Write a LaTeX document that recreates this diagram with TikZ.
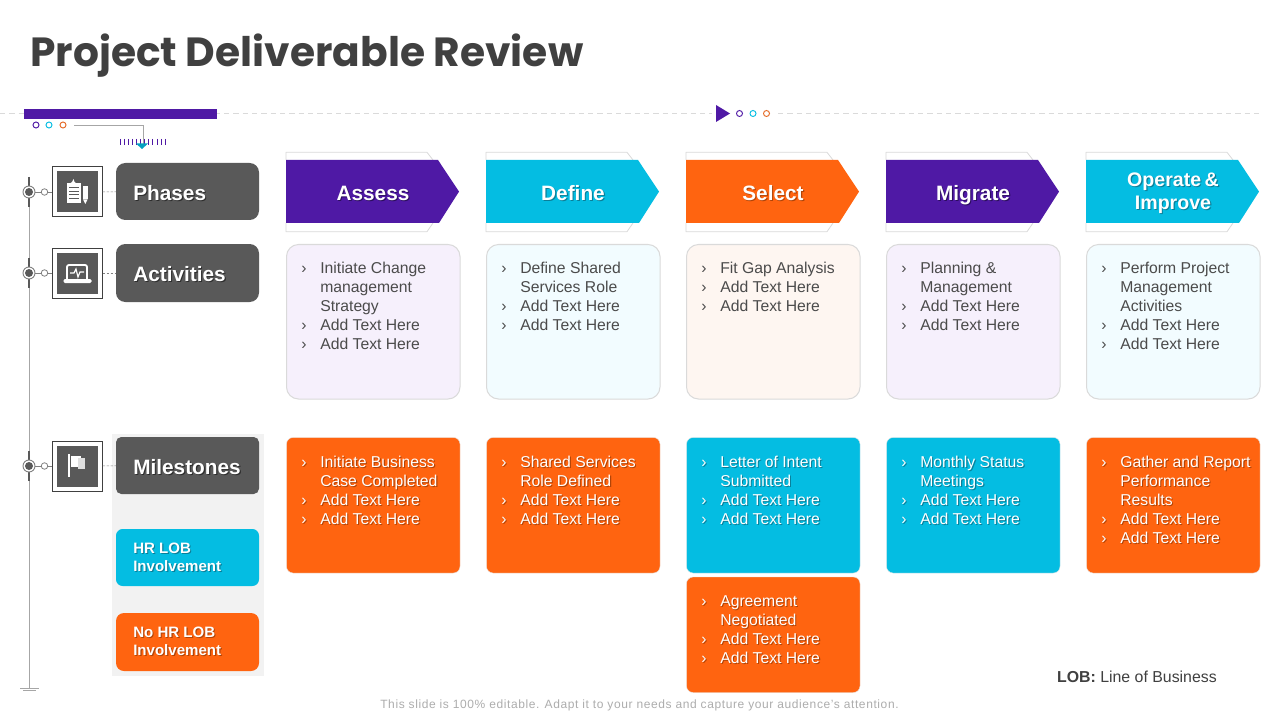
\documentclass[tikz,border=0pt]{standalone}
\usepackage{fontspec}
\setmainfont{Liberation Sans}
\newfontfamily\titlefont{Poppins}
\definecolor{cpurple}{HTML}{4F19A5}
\definecolor{ccyan}{HTML}{04BDE2}
\definecolor{corange}{HTML}{FF6410}
\definecolor{cgrey}{HTML}{595959}
\definecolor{cline}{HTML}{DADADA}
\definecolor{tpurple}{HTML}{F6F0FC}
\definecolor{tcyan}{HTML}{F2FCFF}
\definecolor{torange}{HTML}{FEF6F1}
\definecolor{ctext}{HTML}{404040}
\definecolor{clist}{HTML}{4B4B4B}
\definecolor{scyan}{HTML}{0A7F99}
\definecolor{sorange}{HTML}{B04408}
\definecolor{sgrey}{HTML}{2E2E2E}
\definecolor{spurple}{HTML}{2C0D60}
\newlength{\px}\setlength{\px}{0.75pt}
\newcommand{\bu}{\makebox[19\px][l]{›}}
\newcommand{\nb}{\hspace*{19\px}}
% box node from corner coordinates
\newcommand{\bx}[7][]{%
  \pgfmathsetmacro{\bxcx}{(#3+#5)/2}\pgfmathsetmacro{\bxcy}{(#4+#6)/2}%
  \pgfmathsetmacro{\bxw}{#5-#3}\pgfmathsetmacro{\bxh}{#6-#4}%
  \node[#1,minimum width=\bxw\px,minimum height=\bxh\px] (#2) at (\bxcx,\bxcy) {#7};}
% white text with a drop shadow: [style]{shadow colour}{name}{x}{y}{text}
\newcommand{\shtext}[6][]{%
  \node[#1,text=#2] (#3s) at (#4+1.1,#5+1.1) {#6};
  \node[#1,text=white] (#3) at (#4,#5) {#6};}
\tikzset{
  x=0.75pt,y=-0.75pt,
  softbox/.style={draw=cline,line width=0.75pt,rounded corners=9pt,inner sep=0pt},
  solidbox/.style={rounded corners=5pt,inner sep=0pt,draw=white!80!gray,line width=0.3pt},
  lbl/.style={rounded corners=7pt,inner sep=0pt,fill=cgrey},
  listtext/.style={anchor=north west,align=left,inner sep=0pt,font=\fontsize{11.8pt}{14.25pt}\selectfont},
  darktext/.style={listtext,text=clist},
  headtext/.style={font=\bfseries\fontsize{15.6pt}{17.2pt}\selectfont,align=center,inner sep=0pt},
  chevbase/.style={headtext,anchor=base},
  smallhead/.style={font=\bfseries\fontsize{14.7pt}{17.25pt}\selectfont,align=center,inner sep=0pt},
  sidetext/.style={font=\bfseries\fontsize{11.3pt}{13.5pt}\selectfont,align=left,inner sep=0pt,anchor=west},
  ghost/.style={draw=cline,line width=0.6pt},
  ring/.style={circle,draw=#1,line width=0.7pt,fill=white,minimum size=6\px,inner sep=0pt},
  iconsq/.style={draw=ctext,line width=0.75pt,fill=white,minimum size=50\px,inner sep=0pt},
  iconin/.style={fill=cgrey,minimum size=41\px,inner sep=0pt},
  hub/.style={circle,draw=gray,line width=0.7pt,fill=white,minimum size=12\px,inner sep=0pt},
  hubin/.style={circle,fill=cgrey,minimum size=8\px,inner sep=0pt},
  tie/.style={line width=0.5pt,draw=gray},
  dashtie/.style={line width=0.5pt,draw=gray,dash pattern=on 2pt off 1pt},
}
\begin{document}
\begin{tikzpicture}
\useasboundingbox[fill=white] (0,0) rectangle (1280,720);
% title
\node[anchor=base west,inner sep=0pt,text=ctext,font=\titlefont\bfseries\fontsize{30.55pt}{36pt}\selectfont] (title) at (30,67) {Project Deliverable Review};
% top rule
\coordinate (ruleA) at (0,113.5); \coordinate (ruleB) at (712,113.5);
\coordinate (ruleC) at (778,113.5); \coordinate (ruleD) at (1260,113.5);
\draw[cline,line width=0.6pt,dash pattern=on 4pt off 3pt] (ruleA)--(ruleB) (ruleC)--(ruleD);
\bx[fill=cpurple,inner sep=0pt]{topbar}{24}{109}{217}{119}{}
\node[ring=cpurple] (d1) at (36,125) {};
\node[ring=ccyan] (d2) at (49,125) {};
\node[ring=corange!80!gray] (d3) at (63,125) {};
\coordinate (elbowA) at (74,125); \coordinate (elbowB) at (143,125); \coordinate (elbowC) at (143,144);
\draw[gray!70,line width=0.6pt] (elbowA)--(elbowB)--(elbowC);
\foreach \i in {0,...,11} \draw[cpurple,line width=0.6pt] (120+\i*4.1,139)--(120+\i*4.1,145.5);
\fill[ccyan!85!black] (136,143.5)--(148,143.5)--(142,149)--cycle;
\fill[cpurple] (716,105)--(730,113.5)--(716,122)--cycle;
\node[ring=cpurple] (e1) at (739.5,113.5) {};
\node[ring=ccyan] (e2) at (753,113.5) {};
\node[ring=corange!80!gray] (e3) at (766.5,113.5) {};
% timeline
\coordinate (tlTop) at (29,180); \coordinate (tlBot) at (29,688);
\draw[line width=0.6pt,draw=gray!70] (tlTop)--(tlBot);
\coordinate (g1a) at (20,688); \coordinate (g1b) at (39,688);
\coordinate (g2a) at (23,690.5); \coordinate (g2b) at (36,690.5);
\draw[line width=0.5pt,draw=gray!70] (g1a)--(g1b) (g2a)--(g2b);
% side panel
\bx[fill=black!5,inner sep=0pt]{panel}{112}{434}{264}{676}{}
% rows
\foreach \nm/\y in {p/192,a/273,m/466}{
  \draw[cgrey,line width=2.2pt] (29,\y-15)--(29,\y+15);
  \node[hub] (hub\nm) at (29,\y) {};
  \node[hubin] at (hub\nm) {};
  \node[circle,draw=gray,line width=0.6pt,fill=white,minimum size=6.5\px,inner sep=0pt] (sm\nm) at (44.5,\y) {};
  \draw[tie] (hub\nm)--(sm\nm);
  \node[iconsq] (sq\nm) at (77,\y) {};
  \node[iconin] (in\nm) at (77,\y) {};
  \draw[tie] (sm\nm)--(sq\nm);
}
% icons
\begin{scope}[shift={(77,192)}]
 \fill[white] (-10,-8.5) rectangle (3.5,11);
 \fill[white] (-7,-8.5)--(-5,-10)--(-3.5,-13)--(-2.5,-10)--(-0.5,-8.5)--cycle;
 \foreach \yy in {-4.5,-1,2.5,6} \draw[cgrey,line width=0.7pt] (-8,\yy)--(1.5,\yy);
 \fill[white] (6,-6) rectangle (10.5,7); \fill[white] (6,7.5)--(10.5,7.5)--(8.25,12)--cycle;
\end{scope}
\begin{scope}[shift={(77,273)}]
 \draw[white,line width=1.4pt,rounded corners=1.5pt] (-10,6)--(-10,-8)--(10,-8)--(10,6);
 \fill[white,rounded corners=1pt] (-13.5,6) rectangle (14.5,10);
 \draw[white,line width=0.9pt] (-7,0)--(-3,0)--(-1,-4)--(1,4)--(3,-1)--(7,-1);
\end{scope}
\begin{scope}[shift={(77,466)}]
 \draw[white,line width=1.1pt] (-8,-12)--(-8,11);
 \fill[white] (-6,-10) rectangle (4,1);
 \fill[white!75!gray] (1,-8) rectangle (8,3);
\end{scope}
% left labels
\bx[lbl]{phases}{116}{163}{259}{220}{}
\bx[lbl]{activities}{116}{244}{259}{302}{}
\bx[lbl,rounded corners=4pt]{milestones}{116}{437}{259}{494}{}
\bx[lbl,fill=ccyan,rounded corners=5pt]{hr}{116}{529}{259}{586}{}
\bx[lbl,fill=corange,rounded corners=6pt]{nohr}{116}{613}{259}{671}{}
\draw[dashtie] (sqp)--(phases);
\draw[dashtie] (sqa)--(activities);
\draw[dashtie] (sqm)--(milestones);
\shtext[headtext,anchor=west]{sgrey}{tp}{133}{193}{Phases}
\shtext[headtext,anchor=west]{sgrey}{ta}{133}{274}{Activities}
\shtext[headtext,anchor=west]{sgrey}{tm}{133}{467}{Milestones}
\shtext[sidetext]{scyan}{th}{133}{557.5}{HR LOB\\Involvement}
\shtext[sidetext]{sorange}{tn}{133}{641.5}{No HR LOB\\Involvement}
% chevrons
\foreach \x/\c in {286/cpurple,486/ccyan,686/corange,886/cpurple,1086/ccyan}{
  \draw[ghost,line join=round] (\x,160)--(\x,152.3)--(\x+141,152.3)--(\x+147,160) (\x,223)--(\x,231.7)--(\x+141,231.7)--(\x+147,223);
  \fill[\c] (\x,160)--(\x+152,160)--(\x+173,191.6)--(\x+153,223)--(\x,223)--cycle;
}
\shtext[chevbase]{spurple}{c1}{373}{200.5}{Assess}
\shtext[chevbase]{scyan}{c2}{573}{200.5}{Define}
\shtext[chevbase]{sorange}{c3}{773}{200.5}{Select}
\shtext[chevbase]{spurple}{c4}{973}{200.5}{Migrate}
\shtext[smallhead]{scyan}{c5}{1173}{193.5}{Operate\hspace{-1.5pt} \&\\Improve}
% activities
\bx[softbox,fill=tpurple]{a1}{286.5}{244.5}{460}{399}{}
\bx[softbox,fill=tcyan]{a2}{486.5}{244.5}{660}{399}{}
\bx[softbox,fill=torange]{a3}{686.5}{244.5}{860}{399}{}
\bx[softbox,fill=tpurple]{a4}{886.5}{244.5}{1060}{399}{}
\bx[softbox,fill=tcyan]{a5}{1086.5}{244.5}{1260}{399}{}
\node[darktext] (a1t) at (301,261.5) {\bu Initiate Change\\\nb management\\\nb Strategy\\\bu Add Text Here\\\bu Add Text Here};
\node[darktext] (a2t) at (501,261.5) {\bu Define Shared\\\nb Services Role\\\bu Add Text Here\\\bu Add Text Here};
\node[darktext] (a3t) at (701,261.5) {\bu Fit Gap Analysis\\\bu Add Text Here\\\bu Add Text Here};
\node[darktext] (a4t) at (901,261.5) {\bu Planning \&\\\nb Management\\\bu Add Text Here\\\bu Add Text Here};
\node[darktext] (a5t) at (1101,261.5) {\bu Perform Project\\\nb Management\\\nb Activities\\\bu Add Text Here\\\bu Add Text Here};
% milestones
\bx[solidbox,fill=corange]{m1}{286.5}{437.5}{460}{573}{}
\bx[solidbox,fill=corange]{m2}{486.5}{437.5}{660}{573}{}
\bx[solidbox,fill=ccyan]{m3}{686.5}{437.5}{860}{573}{}
\bx[solidbox,fill=corange]{m3b}{686.5}{577}{860}{692.5}{}
\bx[solidbox,fill=ccyan]{m4}{886.5}{437.5}{1060}{573}{}
\bx[solidbox,fill=corange]{m5}{1086.5}{437.5}{1260}{573}{}
\shtext[listtext]{sorange}{m1t}{301}{455.5}{\bu Initiate Business\\\nb Case Completed\\\bu Add Text Here\\\bu Add Text Here}
\shtext[listtext]{sorange}{m2t}{501}{455.5}{\bu Shared Services\\\nb Role Defined\\\bu Add Text Here\\\bu Add Text Here}
\shtext[listtext]{scyan}{m3t}{701}{455.5}{\bu Letter of Intent\\\nb Submitted\\\bu Add Text Here\\\bu Add Text Here}
\shtext[listtext]{sorange}{m3bt}{701}{595.5}{\bu Agreement\\\nb Negotiated\\\bu Add Text Here\\\bu Add Text Here}
\shtext[listtext]{scyan}{m4t}{901}{455.5}{\bu Monthly Status\\\nb Meetings\\\bu Add Text Here\\\bu Add Text Here}
\shtext[listtext]{sorange}{m5t}{1101}{455.5}{\bu Gather and Report\\\nb Performance\\\nb Results\\\bu Add Text Here\\\bu Add Text Here}
% notes
\node[anchor=east,inner sep=0pt,text=ctext,font=\fontsize{11.9pt}{14pt}\selectfont] (lob) at (1217,677) {\textbf{LOB:} Line of Business};
\node[anchor=center,inner sep=0pt,text=black!32,font=\fontsize{9pt}{11pt}\selectfont] (foot) at (639.5,705) {\addfontfeature{LetterSpace=5}This slide is 100\% editable. Adapt it to your needs and capture your audience's attention.};
\end{tikzpicture}
\end{document}
